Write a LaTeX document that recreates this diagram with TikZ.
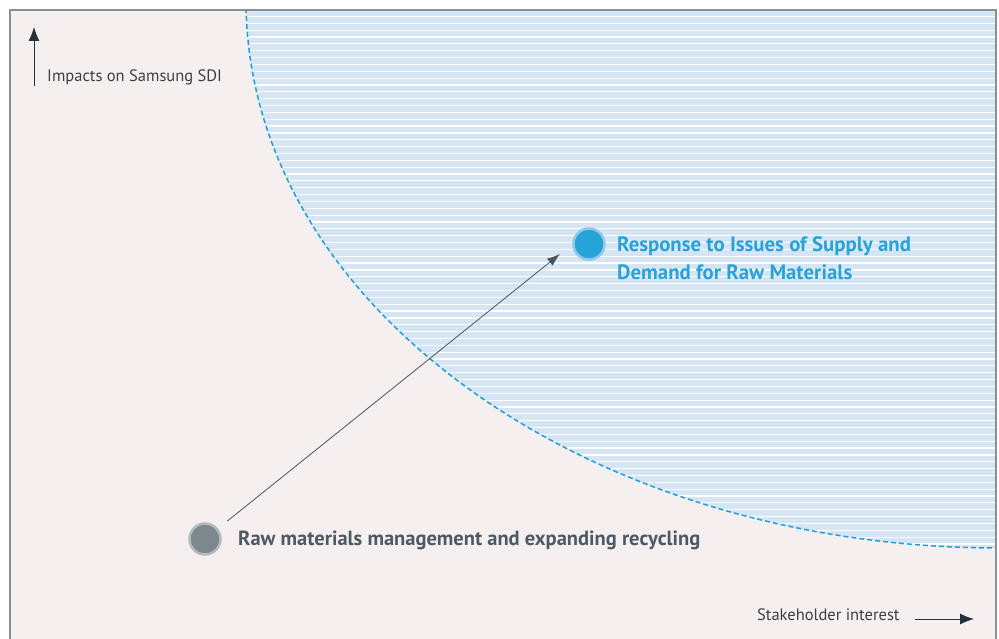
\documentclass[tikz,border=0pt]{standalone}
\usepackage{fontspec}
\setmainfont{PT Sans}
\usetikzlibrary{arrows.meta}
\definecolor{bgpink}{HTML}{F5EFEF}
\definecolor{fillblue}{HTML}{D5E5F4}
\definecolor{dashblue}{HTML}{1FA0D8}
\definecolor{framegray}{HTML}{8A8F93}
\definecolor{respblue}{HTML}{27A3D8}
\definecolor{resphalo}{HTML}{8FC8E8}
\definecolor{rawgray}{HTML}{7C878E}
\definecolor{rawhalo}{HTML}{B3BBC0}
\definecolor{rawtext}{HTML}{4D5A63}
\definecolor{axistext}{HTML}{3A3F44}
\definecolor{arrowdark}{HTML}{4A5560}
\definecolor{axisdark}{HTML}{26313A}
\tikzset{
  dot/.style={circle, line width=2.5pt, minimum size=31pt, inner sep=0pt},
  axisarrow/.style={draw=axisdark, line width=0.9pt, -{Latex[length=14pt,width=11pt]}},
  axislabel/.style={text=axistext, font=\fontsize{16.5pt}{18pt}\selectfont, inner sep=0pt},
}
\begin{document}
\begin{tikzpicture}[x=1pt,y=-1pt]
\useasboundingbox (0,0) rectangle (999,639);
\fill[white] (0,0) rectangle (999,639);
\fill[bgpink] (10,10) rectangle (996,639);
\begin{scope}
  \clip (10,10) rectangle (996,639);
  \fill[fillblue] (1000,0) ellipse [x radius=754, y radius=548];
  \begin{scope}
    \clip (1000,0) ellipse [x radius=754, y radius=548];
    \foreach \i in {0,...,80} \draw[white, line width=1.2pt] (240,16.5+\i*6.85) -- (1000,16.5+\i*6.85);
  \end{scope}
  \draw[dashblue, line width=1.5pt, dash pattern=on 5pt off 3pt] (246,0) arc [start angle=180, end angle=90, x radius=754, y radius=548];
\end{scope}
\draw[framegray, line width=1.6pt] (10,639) -- (10,10) -- (996,10) -- (996,639);

% axes
\coordinate (ybot) at (34,86);
\coordinate (ytop) at (34,27);
\draw[axisarrow] (ybot) -- (ytop);
\node[axislabel, anchor=west] (ylab) at (47,77) {Impacts on Samsung SDI};
\coordinate (xleft) at (915,619);
\coordinate (xright) at (974,619);
\draw[axisarrow] (xleft) -- (xright);
\node[axislabel, anchor=west] (xlab) at (757,615) {Stakeholder interest};

% points
\node[dot, fill=rawgray, draw=rawhalo] (raw) at (205,539) {};
\node[dot, fill=respblue, draw=resphalo] (resp) at (589,244) {};
\node[anchor=west, text=rawtext, font=\bfseries\fontsize{20.5pt}{22pt}\selectfont, inner sep=0pt] (rawlab) at (238,540) {Raw materials management and expanding recycling};
\node[anchor=west, text=respblue, font=\bfseries\fontsize{20.8pt}{29pt}\selectfont, inner sep=0pt, align=left] (resplab) at (617,258) {Response to Issues of Supply and\\[-1pt]Demand for Raw Materials};

\coordinate (tip) at (560,254);
\draw[arrowdark, line width=0.8pt, shorten <=12pt, -{Latex[length=13pt,width=9pt]}] (raw) -- (tip);
\end{tikzpicture}
\end{document}
